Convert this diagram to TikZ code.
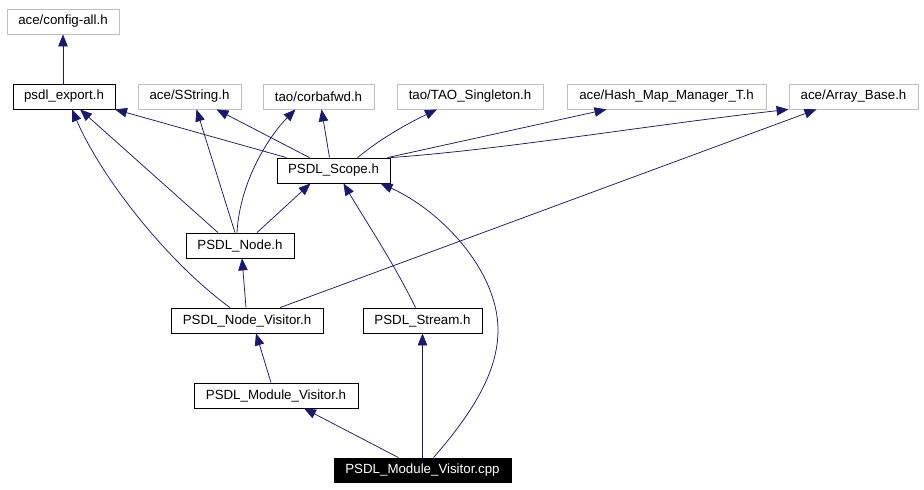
\documentclass[tikz,border=0pt]{standalone}
\usepackage{fontspec}
\setmainfont{Liberation Sans}
\usetikzlibrary{arrows.meta}
\definecolor{edgeblue}{RGB}{25,25,112}
\definecolor{boxgray}{RGB}{191,191,191}

\begin{document}
\begin{tikzpicture}[x=1pt, y=-1pt]
		\tikzstyle{hdr} = [draw=black, line width=0.8pt, inner sep=0pt, minimum height=25pt, font=\fontsize{13.3}{15}\selectfont]
		\tikzstyle{ext} = [hdr, draw=boxgray]
		\tikzstyle{es} = [draw=edgeblue, line width=0.75pt, -{Triangle[length=12pt,width=9.5pt]}]
		\useasboundingbox (0,0) rectangle (924,490);
		\node [ext, minimum width=112pt] (cfg) at (63,21.5) {ace/config-all.h};
		\node [hdr, minimum width=102pt] (export) at (64,96.5) {psdl\_export.h};
		\node [ext, minimum width=103pt] (sstring) at (189.5,96.5) {ace/SString.h};
		\node [ext, minimum width=111pt] (corba) at (318.5,96.5) {tao/corbafwd.h};
		\node [ext, minimum width=146pt] (singleton) at (470,96.5) {tao/TAO\_Singleton.h};
		\node [ext, minimum width=199pt] (hashmap) at (666.5,96.5) {ace/Hash\_Map\_Manager\_T.h};
		\node [ext, minimum width=129pt] (arraybase) at (853.5,96.5) {ace/Array\_Base.h};
		\node [hdr, minimum width=113pt] (scope) at (333.5,170.5) {PSDL\_Scope.h};
		\node [hdr, minimum width=108pt] (node) at (240,245.5) {PSDL\_Node.h};
		\node [hdr, minimum width=152pt] (nodevis) at (247,320.5) {PSDL\_Node\_Visitor.h};
		\node [hdr, minimum width=119pt] (stream) at (422.5,320.5) {PSDL\_Stream.h};
		\node [hdr, minimum width=164pt] (modvis) at (276,395.5) {PSDL\_Module\_Visitor.h};
		\node [hdr, minimum width=177pt, minimum height=24pt, fill=black, text=white] (cpp) at (422.5,470) {PSDL\_Module\_Visitor.cpp};
		\draw [es] ([xshift=-1pt]export.north) -- (cfg.south);
		\draw [es] ([xshift=-47pt]scope.north) -- ([xshift=51pt]export.south);
		\draw [es] ([xshift=-24pt]scope.north) -- ([xshift=27pt]sstring.south);
		\draw [es] ([xshift=-4pt]scope.north) -- ([xshift=3pt]corba.south);
		\draw [es] ([xshift=24pt]scope.north) .. controls (385,135) and (415,120) .. ([xshift=-33pt]singleton.south);
		\draw [es] ([xshift=-3pt]scope.north east) -- ([xshift=-60pt]hashmap.south);
		\draw [es] (scope.north east) .. controls (500,150) and (650,125) .. (arraybase.south west);
		\draw [es] ([xshift=-22pt]node.north) -- ([xshift=16pt]export.south);
		\draw [es] ([xshift=-5pt]node.north) -- ([xshift=7pt]sstring.south);
		\draw [es] ([xshift=-3pt]node.north) .. controls (240,180) and (270,135) .. ([xshift=-23pt]corba.south);
		\draw [es] ([xshift=17pt]node.north) -- ([xshift=-23pt]scope.south);
		\draw [es] ([xshift=-17pt]nodevis.north) .. controls (165,260) and (100,175) .. ([xshift=8pt]export.south);
		\draw [es] ([xshift=-1pt]nodevis.north) -- ([xshift=2pt]node.south);
		\draw [es] ([xshift=33pt]nodevis.north) -- ([xshift=-37pt]arraybase.south);
		\draw [es] ([xshift=-7pt]stream.north) .. controls (395,265) and (365,220) .. ([xshift=10pt]scope.south);
		\draw [es] ([xshift=-5pt]modvis.north) -- ([xshift=9pt]nodevis.south);
		\draw [es] ([xshift=-24pt]cpp.north) -- ([xshift=28pt]modvis.south);
		\draw [es] (cpp.north) -- (stream.south);
		\draw [es] ([xshift=11pt]cpp.north) .. controls (475,410) and (498,370) .. (498,330) .. controls (498,270) and (440,210) .. ([xshift=47pt]scope.south);
\end{tikzpicture}
\end{document}
